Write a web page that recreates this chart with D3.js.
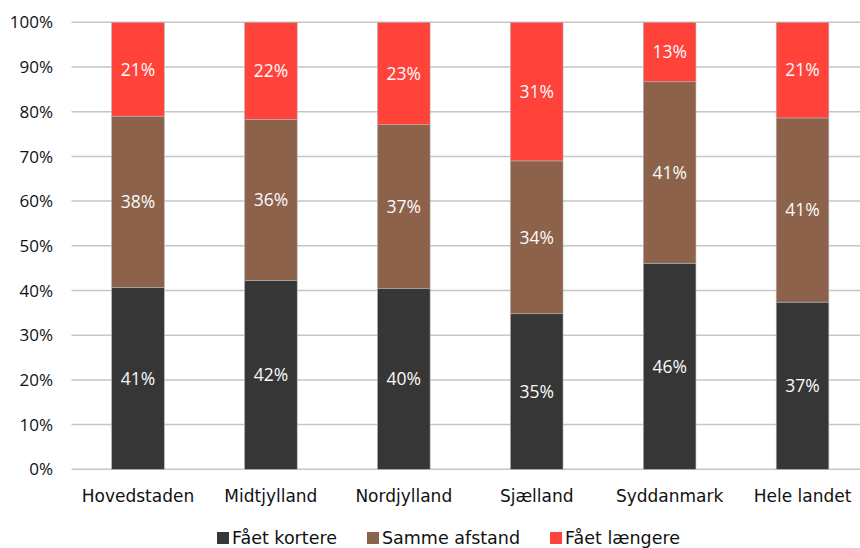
<!DOCTYPE html>
<html>
<head>
<meta charset="utf-8">
<script src="https://cdn.jsdelivr.net/npm/d3@7"></script>
<style>
    body { margin: 0; background: #fff; }
    svg { display: block; }
</style>
</head>
<body>
<div id="chart"></div>
<script>
// data //
// ---- //
var regions = ["Hovedstaden", "Midtjylland", "Nordjylland", "Sjælland", "Syddanmark", "Hele landet"];
var seriesNames = ["Fået kortere", "Samme afstand", "Fået længere"];
var kortere = [40.7, 42.2, 40.4, 34.8, 46.1, 37.4];
var samme = [38.3, 36.1, 36.7, 34.2, 40.6, 41.2];
var laengere = [21.0, 21.7, 22.9, 31.0, 13.3, 21.4];
var yTicks = [0, 10, 20, 30, 40, 50, 60, 70, 80, 90, 100];
var colors = ["#363636", "#8c634a", "#ff433a"];

var width = 860,
    height = 548,
    plotLeft = 71.5,
    plotRight = 869,
    plotTop = 22.3,
    plotBottom = 469.3;

var svg = d3.select("#chart").append("svg")
    .attr("width", width)
    .attr("height", height);

var x = d3.scaleBand()
    .domain(regions)
    .range([plotLeft, plotRight])
    .paddingInner(0.604)
    .paddingOuter(0.302);

var y = d3.scaleLinear()
    .domain([0, 100])
    .range([plotBottom, plotTop]);

// gridlines + y labels
svg.append("g").selectAll("line")
    .data(yTicks)
    .enter().append("line")
    .attr("x1", plotLeft)
    .attr("x2", width)
    .attr("y1", function (d) { return y(d); })
    .attr("y2", function (d) { return y(d); })
    .attr("stroke", "#c6c6c6")
    .attr("stroke-width", 1.5);

svg.append("g").selectAll("text")
    .data(yTicks)
    .enter().append("text")
    .attr("x", 53)
    .attr("y", function (d) { return y(d); })
    .attr("dy", "0.36em")
    .attr("text-anchor", "end")
    .style("font-family", "'Open Sans', sans-serif")
    .style("font-size", "17px")
    .style("fill", "#111")
    .text(function (d) { return d + "%"; });

// stacked bars
var rows = regions.map(function (r, i) {
    return {region: r, k: kortere[i], s: samme[i], l: laengere[i]};
});
var stack = d3.stack().keys(["k", "s", "l"]);
var layers = stack(rows);

var layer = svg.append("g").selectAll("g")
    .data(layers)
    .enter().append("g")
    .attr("fill", function (d, i) { return colors[i]; });

layer.selectAll("rect")
    .data(function (d) { return d; })
    .enter().append("rect")
    .attr("x", function (d) { return x(d.data.region); })
    .attr("width", x.bandwidth())
    .attr("y", function (d) { return y(d[1]); })
    .attr("height", function (d) { return y(d[0]) - y(d[1]); })
    .attr("stroke", "#b3b3b3")
    .attr("stroke-width", 0.6);

layer.selectAll("text")
    .data(function (d) { return d; })
    .enter().append("text")
    .attr("x", function (d) { return x(d.data.region) + x.bandwidth() / 2; })
    .attr("y", function (d) { return (y(d[0]) + y(d[1])) / 2; })
    .attr("dy", "0.36em")
    .attr("text-anchor", "middle")
    .style("font-family", "'Open Sans', sans-serif")
    .style("font-size", "17.5px")
    .style("fill", "#fafafa")
    .text(function (d) { return Math.round(d[1] - d[0]) + "%"; });

// category labels
svg.append("g").selectAll("text")
    .data(regions)
    .enter().append("text")
    .attr("x", function (d) { return x(d) + x.bandwidth() / 2; })
    .attr("y", 502)
    .attr("text-anchor", "middle")
    .style("font-family", "'DejaVu Sans', sans-serif")
    .style("font-size", "17px")
    .style("fill", "#111")
    .text(function (d) { return d; });

// legend
var legend = svg.append("g");
var items = legend.selectAll("g")
    .data(seriesNames)
    .enter().append("g");
items.append("rect")
    .attr("width", 12)
    .attr("height", 12)
    .attr("y", 532)
    .attr("fill", function (d, i) { return colors[i]; });
items.append("text")
    .attr("x", 15)
    .attr("y", 544)
    .style("font-family", "'DejaVu Sans', sans-serif")
    .style("font-size", "17.5px")
    .style("fill", "#111")
    .text(function (d) { return d; });

var offsets = [], pos = 0;
items.each(function () {
    offsets.push(pos);
    pos += this.getBBox().width + 30;
});
var total = pos - 30,
    start = 448.5 - total / 2;
items.attr("transform", function (d, i) { return "translate(" + (start + offsets[i]) + ",0)"; });
</script>
</body>
</html>
